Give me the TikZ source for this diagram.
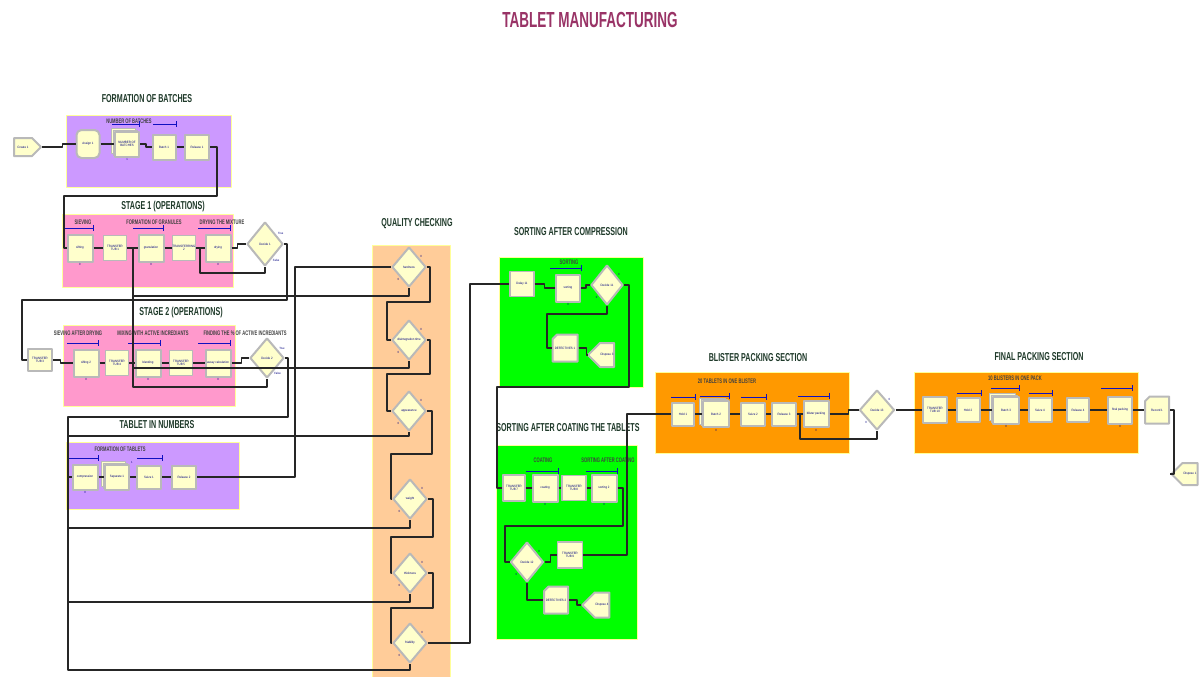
\documentclass[tikz,border=0pt]{standalone}
\usepackage{fontspec}
\setmainfont{Liberation Sans}
\newfontfamily\headfont[FakeStretch=0.62]{Liberation Sans}
\newfontfamily\modfont[FakeStretch=0.9]{Liberation Sans}
\usetikzlibrary{shapes.geometric,shapes.symbols,shapes.misc,shadows}

\definecolor{titlecol}{HTML}{993366}
\definecolor{headcol}{HTML}{1F3A2A}
\definecolor{lilac}{HTML}{CC99FF}
\definecolor{rose}{HTML}{FF99CC}
\definecolor{peach}{HTML}{FFCC99}
\definecolor{lime}{HTML}{00FF00}
\definecolor{amber}{HTML}{FF9900}
\definecolor{modfill}{HTML}{FFFFCC}
\definecolor{barcol}{HTML}{1010C0}
\definecolor{textcol}{HTML}{000080}
\definecolor{framecol}{HTML}{FFFF99}

% queue / resource bar over a module
\newcommand{\resbar}[3]{\draw[bar] (#1,#3) -- (#2,#3) (#2,#3-3) -- (#2,#3+3);}
% text that may run wider than its module
\newcommand{\slim}[1]{\makebox[0pt]{#1}}

\begin{document}
\begin{tikzpicture}[x=1pt,y=-1pt,>=latex,line join=bevel,
  mod/.style={draw=gray!55,line width=2pt,fill=modfill,inner sep=0pt,align=center,
    text=textcol,font=\modfont\fontsize{3.2}{3.6}\selectfont},
  proc/.style={mod,minimum width=25pt,minimum height=27pt},
  xfer/.style={mod,minimum width=23pt,minimum height=25pt,line width=1.5pt},
  dec/.style={mod,diamond,minimum width=34pt,minimum height=40pt},
  qdec/.style={dec,label={[cnt]40:0},label={[cnt]-130:0}},
  sep/.style={proc,double copy shadow={shadow xshift=-2pt,shadow yshift=1.5pt,
    fill=modfill,draw=gray!55,line width=1pt}},
  rec/.style={proc,chamfered rectangle,chamfered rectangle corners=north west,
    chamfered rectangle xsep=4pt},
  create/.style={mod,signal,signal to=east,minimum width=27pt,minimum height=18pt},
  dispose/.style={mod,signal,signal to=west,minimum width=26pt,minimum height=24pt},
  cnt/.style={font=\modfont\fontsize{3}{3}\selectfont,text=textcol,inner sep=0.8pt},
  num/.style={label={[cnt]below:0}},
  conn/.style={draw=black!85,line width=1.1pt},
  bar/.style={draw=barcol,line width=1pt},
  head/.style={font=\headfont\bfseries\fontsize{11.5}{12}\selectfont,text=headcol},
  tag/.style={font=\headfont\bfseries\fontsize{6.6}{7}\selectfont,text=black!75},
  panel/.style={draw=framecol,line width=1pt}]
\useasboundingbox (0,0) rectangle (1200,677);
\fill[white] (0,0) rectangle (1200,677);

%% section panels
\path[panel,fill=lilac] (66,115) rectangle (231,187);
\path[panel,fill=rose] (62,214) rectangle (233,287);
\path[panel,fill=rose] (63,325) rectangle (235,406);
\path[panel,fill=lilac] (66,442) rectangle (239,509);
\path[panel,fill=peach] (372,245) rectangle (450,680);
\path[panel,fill=lime] (499,257) rectangle (643,387);
\path[panel,fill=lime] (496,445) rectangle (637,639);
\path[panel,fill=amber] (655,372) rectangle (849,453);
\path[panel,fill=amber] (914,372) rectangle (1138,453);

%% headings
\node[font=\headfont\bfseries\fontsize{21.8}{24}\selectfont,text=titlecol] (title) at (590,20) {TABLET MANUFACTURING};
\node[head] (hbatches) at (147,99) {FORMATION OF BATCHES};
\node[head] (hstage1) at (163,207) {STAGE 1 (OPERATIONS)};
\node[head] (hstage2) at (181,313) {STAGE 2 (OPERATIONS)};
\node[head] (hnumbers) at (157,425) {TABLET IN NUMBERS};
\node[head] (hquality) at (417,224) {QUALITY CHECKING};
\node[head] (hsortcomp) at (571,232) {SORTING AFTER COMPRESSION};
\node[head] (hsortcoat) at (568,428) {SORTING AFTER COATING THE TABLETS};
\node[head] (hblister) at (758,358) {BLISTER PACKING SECTION};
\node[head] (hfinal) at (1039,357) {FINAL PACKING SECTION};

%% bar captions
\node[tag] (tbatches) at (129,121) {NUMBER OF BATCHES};
\node[tag] (tsieve) at (83,222) {SIEVING};
\node[tag] (tgran) at (154,222) {FORMATION OF GRANULES};
\node[tag] (tdry) at (222,222) {DRYING THE MIXTURE};
\node[tag] (tsieve2) at (78,333) {SIEVING AFTER DRYING};
\node[tag] (tmix) at (153,333) {MIXING WITH ACTIVE INCREDIANTS};
\node[tag] (tfind) at (245,333) {FINDING THE \% OF ACTIVE INCREDIANTS};
\node[tag] (ttablets) at (120,449) {FORMATION OF TABLETS};
\node[tag] (tsort) at (569,262) {SORTING};
\node[tag] (tcoat) at (543,460) {COATING};
\node[tag] (tsortcoat) at (608,460) {SORTING AFTER COATING};
\node[tag] (tblister) at (727,381) {20 TABLETS IN ONE BLISTER};
\node[tag] (tpack) at (1015,378) {10 BLISTERS IN ONE PACK};

%% resource bars
\resbar{112}{139}{124} \resbar{153}{176}{124}
\resbar{63}{93}{228} \resbar{133}{163}{228} \resbar{198}{230}{228}
\resbar{67}{98}{343} \resbar{128}{160}{343} \resbar{198}{230}{343}
\resbar{67}{98}{458} \resbar{137}{162}{458}
\resbar{550}{581}{268}
\resbar{526}{558}{471} \resbar{586}{617}{471}
\resbar{671}{695}{397} \resbar{700}{729}{396} \resbar{741}{766}{397} \resbar{798}{829}{396}
\resbar{957}{981}{393} \resbar{991}{1019}{388} \resbar{1029}{1052}{393} \resbar{1101}{1132}{388}

%% Node: formation of batches
\node[create] (create1) at (23,147) {Create 1};
\node[mod,rounded corners=5pt,minimum width=23pt,minimum height=28pt] (assign1) at (88,144) {Assign 1};
\node[sep,minimum width=24pt,minimum height=25pt,label={[cnt]below:1}] (numbat) at (127,144) {NUMBER OF\\BATCHES};
\node[proc,minimum width=23pt,minimum height=25pt] (batch1) at (164,147) {Batch 1};
\node[proc,minimum width=24pt,minimum height=25pt] (release1) at (197,147) {Release 1};

%% Node: stage 1
\node[proc,num] (sifting) at (80,248) {sifting};
\node[xfer] (tt1) at (115,248) {TRANSFER\\TUB 1};
\node[proc,num] (granulation) at (151,248) {granulation};
\node[xfer] (tt2) at (184,248) {TRANSFERRING\\2};
\node[proc,num] (drying) at (218,248) {drying};
\node[dec,minimum width=36pt,minimum height=44pt,label={[cnt]35:True},label={[cnt]-65:False}] (decide1) at (265,244) {Decide 1};

%% Node: stage 2
\node[xfer,minimum width=24pt,minimum height=22pt] (tt3) at (40,360) {TRANSFER\\TUB 3};
\node[proc,num] (sifting2) at (86,363) {sifting 2};
\node[xfer] (tt4) at (117,363) {TRANSFER\\TUB 4};
\node[proc,num] (blending) at (148,363) {blending};
\node[xfer] (tt5) at (181,363) {TRANSFER\\TUB 5};
\node[proc,num] (assay) at (218,363) {\slim{assay calculation}};
\node[dec,label={[cnt]35:True},label={[cnt]-65:False}] (decide2) at (267,358) {Decide 2};

%% Node: tablet in numbers
\node[proc,minimum height=25pt,num] (compression) at (85,477) {compression};
\node[sep,minimum width=24pt,minimum height=25pt,label={[cnt]45:1}] (separate1) at (117,477) {Separate 1};
\node[proc,minimum width=24pt,minimum height=23pt] (seize1) at (149,477) {Seize 1};
\node[proc,minimum width=24pt,minimum height=23pt] (release2) at (184,477) {Release 2};

%% Node: quality checking
\node[qdec] (hardness) at (409,267) {hardness};
\node[qdec] (disint) at (409,340) {\slim{disintegration time}};
\node[qdec] (appear) at (409,411) {appearance};
\node[qdec] (weight) at (410,499) {weight};
\node[qdec] (thick) at (410,573) {thickness};
\node[qdec] (friab) at (410,643) {friability};

%% Node: sorting after compression
\node[xfer,minimum width=24pt] (delay11) at (522,284) {Delay 11};
\node[proc,minimum width=24pt,num] (sorting) at (568,288) {sorting};
\node[qdec,minimum width=32pt] (decide11) at (607,285) {Decide 11};
\node[rec] (defect1) at (565,348) {DEFECTIVES 1};
\node[dispose] (dispose3) at (607,355) {Dispose 3};

%% Node: sorting after coating
\node[xfer,minimum width=22pt,minimum height=26pt] (tt7) at (514,488) {TRANSFER\\TUB 7};
\node[proc,num] (coating) at (545,488) {coating};
\node[xfer,minimum width=24pt] (tt8) at (574,488) {TRANSFER\\TUB 8};
\node[proc,num] (sorting2) at (604,488) {sorting 2};
\node[qdec,minimum width=33pt] (decide12) at (527,562) {Decide 12};
\node[xfer,minimum width=25pt,minimum height=26pt] (tt9) at (570,555) {TRANSFER\\TUB 9};
\node[rec,minimum width=24pt] (defect2) at (556,600) {DEFECTIVES 2};
\node[dispose,minimum width=27pt,minimum height=25pt] (dispose4) at (602,605) {Dispose 4};

%% Node: blister packing
\node[proc,minimum width=22pt,minimum height=23pt] (hold1) at (683,414) {Hold 1};
\node[sep,minimum width=26pt,minimum height=26pt,num] (batch2) at (716,414) {Batch 2};
\node[proc,minimum width=24pt,minimum height=23pt] (seize2) at (753,414) {Seize 2};
\node[proc,minimum width=24pt,minimum height=23pt] (release3) at (784,414) {Release 3};
\node[proc,minimum height=26pt,num] (blister) at (816,414) {blister packing};
\node[qdec,minimum width=35pt] (decide13) at (877,410) {Decide 13};

%% Node: final packing
\node[xfer,minimum width=24pt,minimum height=26pt] (tt10) at (935,410) {TRANSFER\\TUB 10};
\node[proc,minimum width=23pt,minimum height=24pt] (hold2) at (968,410) {Hold 2};
\node[sep,minimum width=26pt,minimum height=27pt,num] (batch3) at (1006,410) {Batch 3};
\node[proc,minimum width=23pt,minimum height=24pt] (seize4) at (1040,410) {Seize 4};
\node[proc,minimum width=22pt,minimum height=24pt] (release4) at (1078,410) {Release 4};
\node[proc,minimum width=24pt,num] (finalpack) at (1120,410) {final packing};
\node[rec,minimum width=24pt] (record1) at (1157,410) {Record 1};
\node[dispose,minimum width=26pt,minimum height=22pt] (dispose1) at (1190,474) {Dispose 1};

%% Edges
% Edge: Create 1 -> Assign 1
\draw[conn] (create1.east) -- ++(20,0) |- (assign1.west);
% Edge: Assign 1 -> NUMBER OF BATCHES
\draw[conn] (assign1.east) -- (numbat.west);
% Edge: NUMBER OF BATCHES -> Batch 1
\draw[conn] (numbat.east) -- ++(6,0) |- (batch1.west);
% Edge: Batch 1 -> Release 1
\draw[conn] (batch1.east) -- (release1.west);
% Edge: Release 1 -> sifting
\draw[conn] (release1.east) -| (217,196) -| (64,248) -- (sifting.west);
% Edge: stage 1 chain
\draw[conn] (sifting.east) -- (tt1.west);
\draw[conn] (tt1.east) -- (granulation.west);
\draw[conn] (granulation.east) -- (tt2.west);
\draw[conn] (tt2.east) -- (drying.west);
\draw[conn] (drying.east) -- ++(6,0) |- (decide1.west);
% Edge: Decide 1 (false) -> drying
\draw[conn] (decide1.south) -- ++(0,6) -| (200,248) -- (drying.west);
% Edge: Decide 1 (true) -> TRANSFER TUB 3
\draw[conn] (decide1.east) -| (287,300) -| (22,360) -- (tt3.west);
% Edge: stage 2 chain
\draw[conn] (tt3.east) -- ++(8,0) |- (sifting2.west);
\draw[conn] (sifting2.east) -- (tt4.west);
\draw[conn] (tt4.east) -- (blending.west);
\draw[conn] (blending.east) -- (tt5.west);
\draw[conn] (tt5.east) -- (assay.west);
\draw[conn] (assay.east) -- ++(10,0) |- (decide2.west);
% Edge: Decide 2 (false) -> granulation
\draw[conn] (decide2.south) |- (133,387) -- (133,248) -- (granulation.west);
% Edge: Decide 2 (true) -> compression
\draw[conn] (decide2.east) -| (288,417) -| (68,477) -- (compression.west);
% Edge: tablet chain
\draw[conn] (compression.east) -- (separate1.west);
\draw[conn] (separate1.east) -- (seize1.west);
\draw[conn] (seize1.east) -- (release2.west);
% Edge: Release 2 -> hardness
\draw[conn] (release2.east) -| (295,267) -- (hardness.west);
% Edge: checks, true side
\draw[conn] (hardness.east) -| (430,302) -| (387,340) -- (disint.west);
\draw[conn] (disint.east) -| (430,374) -| (387,411) -- (appear.west);
\draw[conn] (appear.east) -| (432,454) -| (391,499) -- (weight.west);
\draw[conn] (weight.east) -| (433,537) -| (391,573) -- (thick.west);
\draw[conn] (thick.east) -| (433,608) -| (391,643) -- (friab.west);
% Edge: checks, false side (rework)
\draw[conn] (hardness.south) |- (133,296) -- (133,248) -- (granulation.west);
\draw[conn] (disint.south) |- (133,368) -- (133,248) -- (granulation.west);
\draw[conn] (appear.south) |- (68,436) -- (68,477) -- (compression.west);
\draw[conn] (weight.south) |- (68,528) -- (68,477) -- (compression.west);
\draw[conn] (thick.south) |- (68,602) -- (68,477) -- (compression.west);
\draw[conn] (friab.south) |- (68,670) -- (68,477) -- (compression.west);
% Edge: friability -> Delay 11
\draw[conn] (friab.east) -| (470,284) -- (delay11.west);
% Edge: sorting after compression
\draw[conn] (delay11.east) -- ++(10,0) |- (sorting.west);
\draw[conn] (sorting.east) -- ++(5,0) |- (decide11.west);
\draw[conn] (decide11.south) -- ++(0,8) -| (547,348) -- (defect1.west);
\draw[conn] (defect1.east) -- ++(8,0) |- (dispose3.west);
% Edge: Decide 11 (true) -> TRANSFER TUB 7
\draw[conn] (decide11.east) -| (629,387) -| (497,488) -- (tt7.west);
% Edge: sorting after coating
\draw[conn] (tt7.east) -- (coating.west);
\draw[conn] (coating.east) -- (tt8.west);
\draw[conn] (tt8.east) -- (sorting2.west);
\draw[conn] (sorting2.east) -| (623,526) -| (505,562) -- (decide12.west);
\draw[conn] (decide12.east) -- ++(6,0) |- (tt9.west);
\draw[conn] (decide12.south) |- (defect2.west);
\draw[conn] (defect2.east) -- ++(8,0) |- (dispose4.west);
% Edge: TRANSFER TUB 9 -> Hold 1
\draw[conn] (tt9.east) -| (627,414) -- (hold1.west);
% Edge: blister chain
\draw[conn] (hold1.east) -- (batch2.west);
\draw[conn] (batch2.east) -- (seize2.west);
\draw[conn] (seize2.east) -- (release3.west);
\draw[conn] (release3.east) -- (blister.west);
\draw[conn] (blister.east) -- ++(19,0) |- (decide13.west);
% Edge: Decide 13 (false) -> blister packing
\draw[conn] (decide13.south) |- (800,439) -- (800,414) -- (blister.west);
% Edge: Decide 13 (true) -> TRANSFER TUB 10
\draw[conn] (decide13.east) -- (tt10.west);
% Edge: final chain
\draw[conn] (tt10.east) -- (hold2.west);
\draw[conn] (hold2.east) -- (batch3.west);
\draw[conn] (batch3.east) -- (seize4.west);
\draw[conn] (seize4.east) -- (release4.west);
\draw[conn] (release4.east) -- (finalpack.west);
\draw[conn] (finalpack.east) -- (record1.west);
% Edge: Record 1 -> Dispose 1
\draw[conn] (record1.east) -| (1174,474) -- (dispose1.west);
\end{tikzpicture}
\end{document}
